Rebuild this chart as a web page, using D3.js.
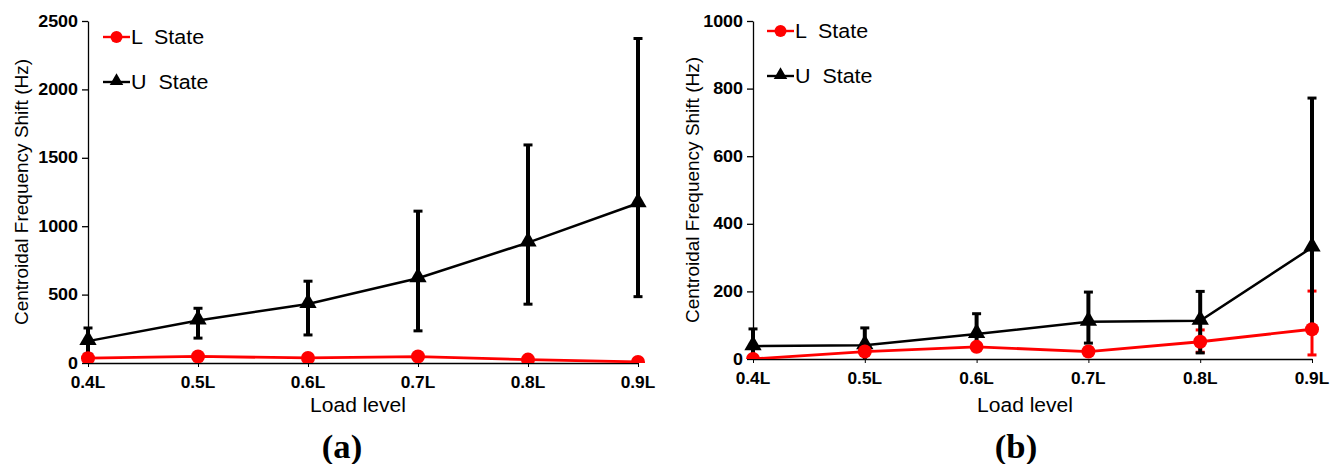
<!DOCTYPE html>
<html>
<head>
<meta charset="utf-8">
<script src="https://cdn.jsdelivr.net/npm/d3@7"></script>
<style>
  html, body { margin: 0; padding: 0; background: #fff; }
  svg { display: block; }
  text { font-family: "Liberation Sans", Arial, sans-serif; }
</style>
</head>
<body>
<svg id="chart" width="1330" height="464"></svg>
<script>
// ---- data ----
const categories = ["0.4L", "0.5L", "0.6L", "0.7L", "0.8L", "0.9L"];

// Panel (a)
const aTicks = [0, 500, 1000, 1500, 2000, 2500];
const aL = [35, 48, 37, 47, 25, 8];
const aLLow = [35, 48, 37, 47, 25, 8];
const aLHigh = [35, 48, 37, 47, 25, 8];
const aU = [160, 310, 432, 620, 880, 1168];
const aULow = [65, 182, 205, 235, 430, 485];
const aUHigh = [256, 400, 598, 1110, 1594, 2372];

// Panel (b)
const bTicks = [0, 200, 400, 600, 800, 1000];
const bL = [0, 22, 36, 22, 51, 88];
const bLLow = [0, 22, 36, 22, 20, 12];
const bLHigh = [0, 22, 36, 22, 86, 201];
const bU = [38, 41, 74, 110, 113, 330];
const bULow = [-15, -10, 25, 47, 18, 95];
const bUHigh = [89, 92, 134, 198, 200, 772];

const seriesNames = ["L  State", "U  State"];
const seriesColors = ["#ff0000", "#000000"];

const svg = d3.select("#chart");
const SX = 1.13; // horizontal stretch of horizontal text

function htext(g, x, y, str, opts) {
  const t = g.append("text")
    .attr("transform", `translate(${x},${y}) scale(${opts.sx || SX},1)`)
    .attr("text-anchor", opts.anchor || "start")
    .attr("font-size", opts.size)
    .attr("font-weight", opts.weight || "normal")
    .attr("fill", opts.fill || "#000")
    .style("white-space", "pre")
    .text(str);
  if (opts.family) t.style("font-family", opts.family);
  return t;
}

function panel(cfg) {
  const g = svg.append("g");
  const x = d3.scalePoint().domain(categories).range([cfg.x0, cfg.x1]).padding(0);
  const y = d3.scaleLinear().domain([0, cfg.ticks[cfg.ticks.length - 1]]).range([cfg.yb, cfg.yt]);

  // y axis
  const yAxis = g.append("g").attr("transform", `translate(${cfg.x0},0)`)
    .call(d3.axisLeft(y).tickValues(cfg.ticks).tickSize(6).tickSizeOuter(0).tickFormat(""));
  yAxis.select(".domain").attr("stroke", "#000").attr("stroke-width", 1.3);
  yAxis.selectAll(".tick line").attr("stroke", "#000").attr("stroke-width", 1.3);
  cfg.ticks.forEach(v => {
    htext(g, cfg.x0 - 10, y(v) + 5.5, String(v), {size: 16, weight: "bold", anchor: "end", sx: 1.12});
  });

  // x axis
  const xAxis = g.append("g").attr("transform", `translate(0,${cfg.yb})`)
    .call(d3.axisBottom(x).tickSize(4).tickSizeOuter(0).tickFormat(""));
  xAxis.select(".domain").attr("stroke", "#000").attr("stroke-width", 1.3);
  xAxis.selectAll(".tick line").attr("stroke", "#000").attr("stroke-width", 1);
  categories.forEach(c => {
    htext(g, x(c), cfg.yb + 25, c, {size: 16, weight: "bold", anchor: "middle", sx: 1.08});
  });

  // clip
  const clipId = "clip" + cfg.id;
  svg.append("clipPath").attr("id", clipId).append("rect")
    .attr("x", cfg.x0 - 20).attr("y", 0).attr("width", cfg.x1 - cfg.x0 + 40).attr("height", cfg.yb);
  const plot = g.append("g").attr("clip-path", `url(#${clipId})`);

  const line = d3.line().x((d, i) => x(categories[i])).y(d => y(d));

  function drawErr(low, high, color, width) {
    const eg = plot.append("g");
    categories.forEach((c, i) => {
      if (high[i] === low[i]) return;
      const cx = x(c);
      eg.append("line").attr("x1", cx).attr("x2", cx).attr("y1", y(high[i])).attr("y2", y(low[i]))
        .attr("stroke", color).attr("stroke-width", width);
      [high[i], low[i]].forEach(v => {
        eg.append("line").attr("x1", cx - 4.5).attr("x2", cx + 4.5).attr("y1", y(v)).attr("y2", y(v))
          .attr("stroke", color).attr("stroke-width", 3);
      });
    });
  }

  // red error bars (beneath)
  drawErr(cfg.LLow, cfg.LHigh, seriesColors[0], 3);
  // black series
  drawErr(cfg.ULow, cfg.UHigh, seriesColors[1], 4);
  plot.append("path").datum(cfg.U).attr("d", line).attr("fill", "none")
    .attr("stroke", seriesColors[1]).attr("stroke-width", 2.5);
  const tri = d3.symbol().type(d3.symbolTriangle).size(130);
  plot.selectAll(".tri").data(cfg.U).join("path")
    .attr("d", tri).attr("fill", "#000")
    .attr("transform", (d, i) => `translate(${x(categories[i])},${y(d) - 1})`);
  // red series
  plot.append("path").datum(cfg.L).attr("d", line).attr("fill", "none")
    .attr("stroke", seriesColors[0]).attr("stroke-width", 2.8);
  plot.selectAll(".dot").data(cfg.L).join("circle")
    .attr("cx", (d, i) => x(categories[i])).attr("cy", d => y(d)).attr("r", 7)
    .attr("fill", seriesColors[0]);

  // legend
  const lg = g.append("g");
  [0, 1].forEach(k => {
    const ly = cfg.legY[k];
    lg.append("line").attr("x1", cfg.legX).attr("x2", cfg.legX + 27).attr("y1", ly).attr("y2", ly)
      .attr("stroke", seriesColors[k]).attr("stroke-width", 2.4);
    if (k === 0) {
      lg.append("circle").attr("cx", cfg.legX + 13.5).attr("cy", ly).attr("r", 6).attr("fill", seriesColors[0]);
    } else {
      lg.append("path").attr("d", d3.symbol().type(d3.symbolTriangle).size(80))
        .attr("transform", `translate(${cfg.legX + 13.5},${ly - 1})`).attr("fill", "#000");
    }
    htext(lg, cfg.legX + 28, ly + 7, seriesNames[k], {size: 19.5, sx: 1.1});
  });

  // axis titles
  g.append("text")
    .attr("transform", `translate(${cfg.yLabelX},${(cfg.yt + cfg.yb) / 2}) rotate(-90)`)
    .attr("text-anchor", "middle").attr("font-size", 19)
    .text("Centroidal Frequency Shift (Hz)");
  htext(g, cfg.xLabelX, 412, "Load level", {size: 19.5, anchor: "middle", sx: 1.08});
  htext(g, cfg.tagX, 458, cfg.tag, {size: 33, weight: "bold", anchor: "middle",
    family: "'Liberation Serif', 'Times New Roman', serif", sx: 1.05});
}

panel({id: "a", x0: 88, x1: 638, yt: 21, yb: 363, ticks: aTicks,
  L: aL, LLow: aLLow, LHigh: aLHigh, U: aU, ULow: aULow, UHigh: aUHigh,
  legX: 103, legY: [37, 82], yLabelX: 28, xLabelX: 358, tagX: 342, tag: "(a)"});
panel({id: "b", x0: 753, x1: 1312, yt: 21, yb: 359, ticks: bTicks,
  L: bL, LLow: bLLow, LHigh: bLHigh, U: bU, ULow: bULow, UHigh: bUHigh,
  legX: 767, legY: [31, 76], yLabelX: 699, xLabelX: 1025, tagX: 1016, tag: "(b)"});
</script>
</body>
</html>
